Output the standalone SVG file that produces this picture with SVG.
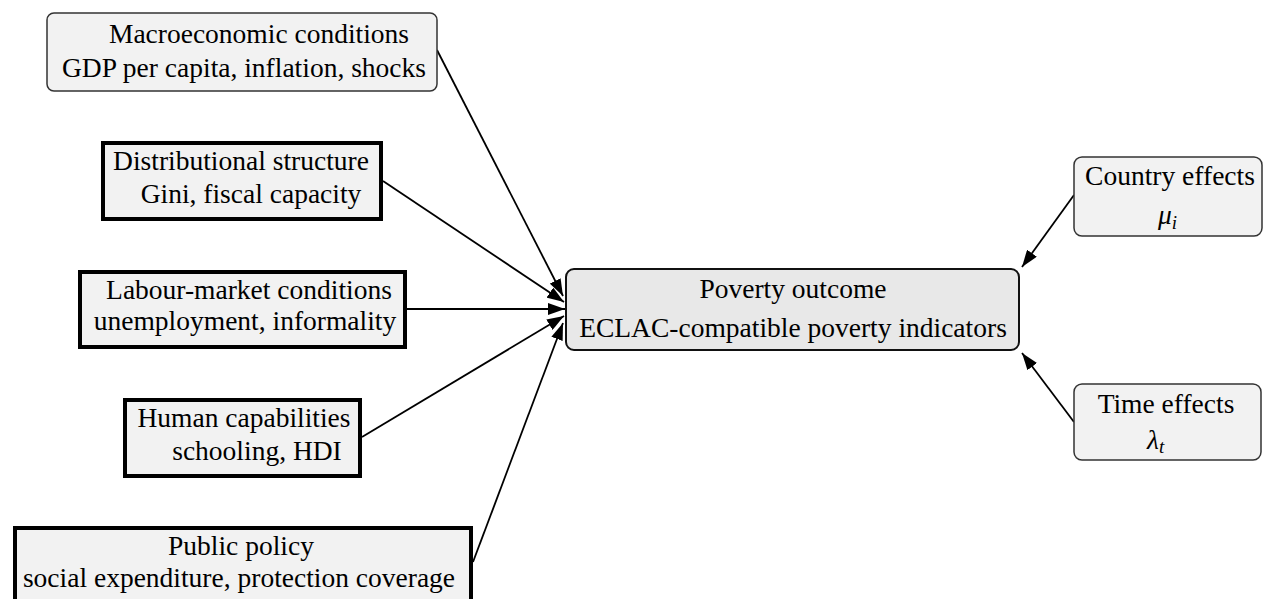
<svg xmlns="http://www.w3.org/2000/svg" width="1264" height="599" viewBox="0 0 1264 599">
<style>
text{font-family:"Liberation Serif","Times New Roman",serif;font-size:27.5px;fill:#000;text-anchor:middle}
.soft{fill:#f2f2f2;stroke:#333;stroke-width:1.5}
.hard{fill:#f2f2f2;stroke:#000;stroke-width:4}
.main{fill:#e8e8e8;stroke:#111;stroke-width:2}
.edge{stroke:#000;stroke-width:1.8;fill:none;marker-end:url(#ah)}
.m{font-style:italic}
</style>
<defs>
<marker id="ah" markerUnits="userSpaceOnUse" markerWidth="17" markerHeight="12" refX="17" refY="6" orient="auto">
<path d="M0,0 L17,6 L0,12 z" fill="#000"/>
</marker>
</defs>
<rect width="1264" height="599" fill="#fff"/>
<g id="connectors">
<line class="edge" x1="437" y1="50" x2="563" y2="296"/>
<line class="edge" x1="383" y1="181" x2="564" y2="302"/>
<line class="edge" x1="407" y1="309" x2="565" y2="309"/>
<line class="edge" x1="362" y1="437" x2="564" y2="316"/>
<line class="edge" x1="473" y1="562" x2="563" y2="323"/>
<line class="edge" x1="1074" y1="195" x2="1022" y2="267"/>
<line class="edge" x1="1074" y1="422" x2="1022" y2="353"/>
</g>
<g id="macro">
<rect class="soft" x="47" y="13" width="390" height="78" rx="7"/>
<text x="259" y="43">Macroeconomic conditions</text>
<text x="244" y="77">GDP per capita, inflation, shocks</text>
</g>
<g id="distributional">
<rect class="hard" x="103" y="143" width="278" height="76"/>
<text x="241" y="170">Distributional structure</text>
<text x="251" y="203">Gini, fiscal capacity</text>
</g>
<g id="labour">
<rect class="hard" x="80" y="272" width="325" height="75"/>
<text x="249" y="299">Labour-market conditions</text>
<text x="245" y="330">unemployment, informality</text>
</g>
<g id="human">
<rect class="hard" x="125" y="400" width="235" height="76"/>
<text x="244" y="427">Human capabilities</text>
<text x="257" y="460">schooling, HDI</text>
</g>
<g id="public">
<rect class="hard" x="15" y="528" width="456" height="90"/>
<text x="241" y="555">Public policy</text>
<text x="239" y="587">social expenditure, protection coverage</text>
</g>
<g id="poverty">
<rect class="main" x="566" y="269" width="453" height="81" rx="8"/>
<text x="793" y="298">Poverty outcome</text>
<text x="793" y="337">ECLAC-compatible poverty indicators</text>
</g>
<g id="country">
<rect class="soft" x="1074" y="157" width="188" height="79" rx="8"/>
<text x="1170" y="185">Country effects</text>
<text x="1158" y="224" class="m" style="text-anchor:start">μ<tspan font-size="19" dy="5">i</tspan></text>
</g>
<g id="time">
<rect class="soft" x="1074" y="384" width="187" height="76" rx="8"/>
<text x="1166" y="413">Time effects</text>
<text x="1147" y="449" class="m" style="text-anchor:start">λ<tspan font-size="19" dy="4">t</tspan></text>
</g>
</svg>
